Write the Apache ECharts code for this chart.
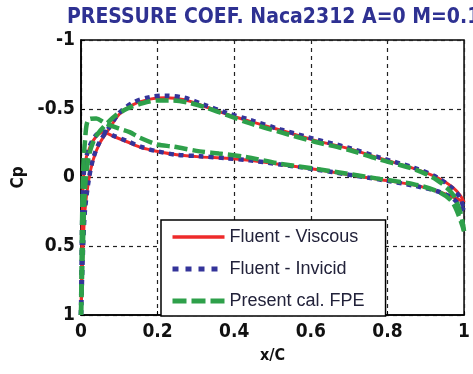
<!DOCTYPE html>
<html><head><meta charset="utf-8">
<script src="https://cdn.jsdelivr.net/npm/echarts@6/dist/echarts.min.js"></script>
<style>html,body{margin:0;padding:0;background:#fff}#c{width:473px;height:374px}</style>
</head><body><div id="c"></div>
<script>
// Fluent - Viscous
const viscUpperX = [0, 0.005, 0.01, 0.02, 0.032, 0.049, 0.075, 0.1, 0.136, 0.18, 0.22, 0.27, 0.32, 0.38, 0.44, 0.52, 0.61, 0.70, 0.78, 0.87, 0.93, 0.97, 0.99, 1.0];
const viscUpperCp = [1, 0.55, 0.25, 0.02, -0.13, -0.25, -0.36, -0.46, -0.53, -0.57, -0.58, -0.565, -0.52, -0.46, -0.41, -0.345, -0.27, -0.21, -0.14, -0.065, 0.0, 0.07, 0.13, 0.18];
const viscLowerX = [0, 0.002, 0.005, 0.01, 0.023, 0.04, 0.058, 0.084, 0.12, 0.16, 0.2, 0.25, 0.31, 0.38, 0.44, 0.52, 0.61, 0.70, 0.78, 0.87, 0.93, 0.97, 1.0];
const viscLowerCp = [1, 0.5, 0.1, -0.1, -0.22, -0.3, -0.33, -0.3, -0.26, -0.215, -0.19, -0.165, -0.15, -0.14, -0.125, -0.095, -0.06, -0.02, 0.015, 0.055, 0.1, 0.14, 0.18];
// Fluent - Invicid
const invUpperX = [0, 0.005, 0.01, 0.02, 0.032, 0.049, 0.075, 0.1, 0.136, 0.18, 0.22, 0.27, 0.32, 0.38, 0.44, 0.52, 0.61, 0.70, 0.78, 0.87, 0.93, 0.97, 0.99, 1.0];
const invUpperCp = [1, 0.55, 0.25, 0.02, -0.14, -0.26, -0.37, -0.47, -0.545, -0.585, -0.595, -0.58, -0.53, -0.47, -0.42, -0.35, -0.28, -0.215, -0.145, -0.07, 0.0, 0.08, 0.15, 0.24];
const invLowerX = [0, 0.002, 0.005, 0.01, 0.023, 0.04, 0.058, 0.084, 0.12, 0.16, 0.2, 0.25, 0.31, 0.38, 0.44, 0.52, 0.61, 0.70, 0.78, 0.87, 0.93, 0.97, 1.0];
const invLowerCp = [1, 0.5, 0.1, -0.1, -0.23, -0.31, -0.335, -0.305, -0.265, -0.22, -0.19, -0.165, -0.155, -0.14, -0.125, -0.095, -0.06, -0.02, 0.015, 0.06, 0.1, 0.15, 0.24];
// Present cal. FPE
const fpeUpperX = [0, 0.005, 0.01, 0.02, 0.035, 0.05, 0.07, 0.09, 0.12, 0.16, 0.2, 0.24, 0.28, 0.33, 0.38, 0.44, 0.52, 0.61, 0.70, 0.78, 0.87, 0.93, 0.97, 0.99, 1.0];
const fpeUpperCp = [1, 0.5, 0.1, -0.15, -0.28, -0.34, -0.4, -0.45, -0.5, -0.54, -0.56, -0.56, -0.545, -0.505, -0.455, -0.395, -0.33, -0.26, -0.2, -0.13, -0.06, 0.02, 0.12, 0.25, 0.39];
const fpeLowerX = [0, 0.002, 0.005, 0.01, 0.019, 0.04, 0.06, 0.08, 0.1, 0.127, 0.153, 0.2, 0.24, 0.31, 0.36, 0.43, 0.52, 0.61, 0.70, 0.78, 0.87, 0.93, 0.97, 1.0];
const fpeLowerCp = [1, 0.5, 0.0, -0.25, -0.42, -0.43, -0.4, -0.375, -0.355, -0.33, -0.29, -0.24, -0.225, -0.19, -0.175, -0.15, -0.1, -0.065, -0.025, 0.01, 0.05, 0.1, 0.18, 0.39];

const xTicks = [0, 0.2, 0.4, 0.6, 0.8, 1];
const yTicks = [-1, -0.5, 0, 0.5, 1];

const titleText = 'PRESSURE COEF. Naca2312 A=0 M=0.1';
const names = ['Fluent - Viscous', 'Fluent - Invicid', 'Present cal. FPE'];
const colors = ['#ee2a2a', '#34349a', '#2ea04a'];

const zip = (xs, ys) => xs.map((x, i) => [x, ys[i]]);
const FONT = "'DejaVu Sans Condensed','Liberation Sans',sans-serif";

const styles = [
  { width: 3, type: 'solid' },
  { width: 4.5, type: [5, 5] },
  { width: 4.5, type: [13, 5] }
];
const sets = [
  [viscUpperX, viscUpperCp, viscLowerX, viscLowerCp],
  [invUpperX, invUpperCp, invLowerX, invLowerCp],
  [fpeUpperX, fpeUpperCp, fpeLowerX, fpeLowerCp]
];
const series = [];
sets.forEach((s, i) => {
  [[s[0], s[1]], [s[2], s[3]]].forEach(p => {
    series.push({
      name: names[i], type: 'line', data: zip(p[0], p[1]),
      symbol: 'none', smooth: 0.3, silent: true, animation: false,
      lineStyle: { color: colors[i], width: styles[i].width, type: styles[i].type, cap: 'butt' },
      itemStyle: { color: colors[i] }
    });
  });
});

const legendData = names.map((n, i) => ({
  name: n,
  lineStyle: { color: colors[i], width: i === 0 ? 3.5 : 5, type: i === 0 ? 'solid' : (i === 1 ? [6, 7] : [14, 5]), cap: 'butt' }
}));

const chart = echarts.init(document.getElementById('c'));
chart.setOption({
  animation: false,
  title: {
    text: titleText, left: 62, top: 2,
    textStyle: { fontFamily: FONT, fontWeight: 'bold', fontSize: 21, color: '#2e3192' }
  },
  grid: { left: 81, right: 7, top: 40, bottom: 59, show: true, borderColor: '#000', borderWidth: 1.5, backgroundColor: 'transparent' },
  legend: {
    orient: 'vertical', left: 161, top: 220,
    data: legendData,
    backgroundColor: '#fff', borderColor: '#000', borderWidth: 1.5, borderRadius: 0,
    padding: [8, 21, 6, 9], itemWidth: 52, itemHeight: 13, itemGap: 14,
    itemStyle: { opacity: 0 },
    textStyle: { fontFamily: "'Liberation Sans',Arial,sans-serif", fontSize: 18, color: '#22223a' },
    selectedMode: false
  },
  xAxis: {
    type: 'value', min: 0, max: 1, interval: 0.2,
    name: 'x/C', nameLocation: 'middle', nameGap: 33,
    nameTextStyle: { fontFamily: FONT, fontWeight: 'bold', fontSize: 16, color: '#111' },
    axisLine: { show: true, onZero: false, lineStyle: { color: '#000', width: 1.5 } },
    axisTick: { show: true, inside: true, length: 4, lineStyle: { color: '#000' } },
    axisLabel: { fontFamily: FONT, fontWeight: 'bold', fontSize: 19, color: '#111', margin: 8,
      formatter: v => xTicks.includes(Math.round(v * 10) / 10) ? String(Math.round(v * 10) / 10) : '' },
    splitLine: { show: true, lineStyle: { color: '#222', type: [4, 4], width: 1.2 } }
  },
  yAxis: {
    type: 'value', min: -1, max: 1, interval: 0.5, inverse: true,
    name: 'Cp', nameLocation: 'middle', nameGap: 52, nameRotate: 90,
    nameTextStyle: { fontFamily: FONT, fontWeight: 'bold', fontSize: 17, color: '#111' },
    axisLine: { show: true, onZero: false, lineStyle: { color: '#000', width: 1.5 } },
    axisTick: { show: true, inside: true, length: 4, lineStyle: { color: '#000' } },
    axisLabel: { fontFamily: FONT, fontWeight: 'bold', fontSize: 19, color: '#111', margin: 6,
      formatter: v => yTicks.includes(v) ? String(v) : '' },
    splitLine: { show: true, lineStyle: { color: '#222', type: [4, 4], width: 1.2 } }
  },
  series: series
});
</script></body></html>
